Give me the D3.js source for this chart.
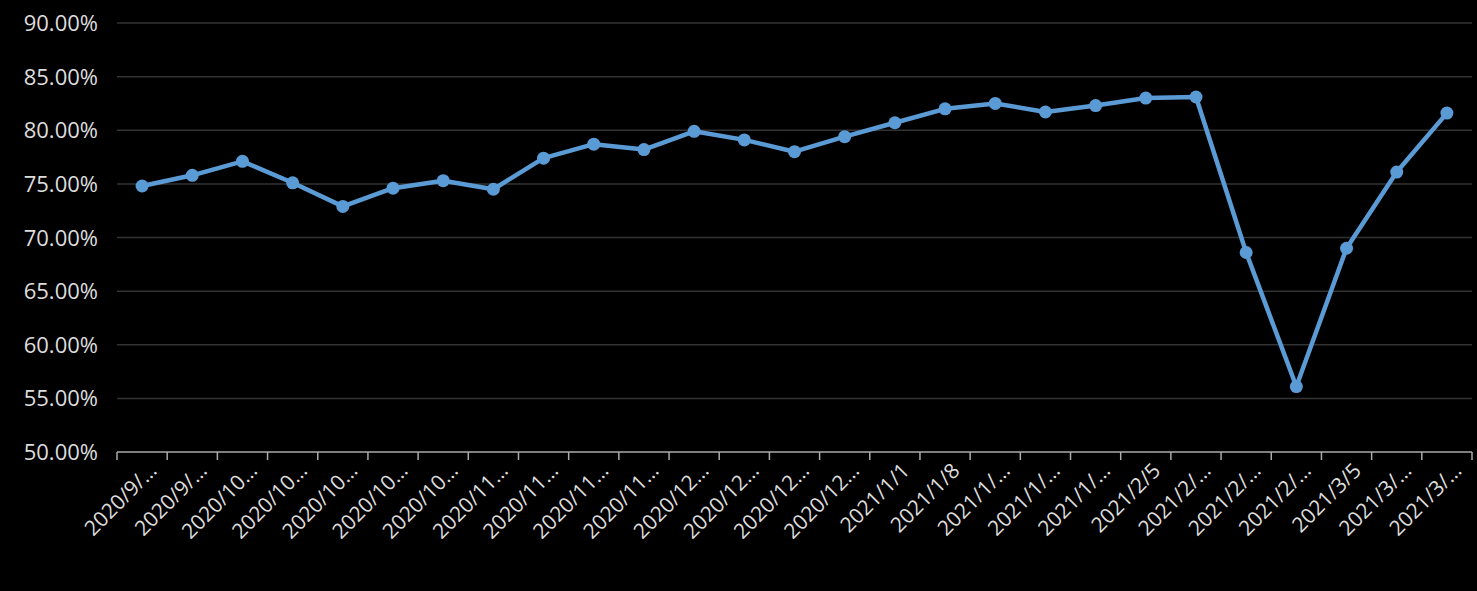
<!DOCTYPE html>
<html><head><meta charset="utf-8">
<script src="https://cdn.jsdelivr.net/npm/d3@7"></script>
<style>body{margin:0;background:#000}</style></head>
<body><svg id="c" width="1477" height="591"></svg>
<script>
const categories=["2020/9/…","2020/9/…","2020/10…","2020/10…","2020/10…","2020/10…","2020/10…","2020/11…","2020/11…","2020/11…","2020/11…","2020/12…","2020/12…","2020/12…","2020/12…","2021/1/1","2021/1/8","2021/1/…","2021/1/…","2021/1/…","2021/2/5","2021/2/…","2021/2/…","2021/2/…","2021/3/5","2021/3/…","2021/3/…"];
const values=[74.8,75.8,77.1,75.1,72.9,74.6,75.3,74.5,77.4,78.7,78.2,79.9,79.1,78.0,79.4,80.7,82.0,82.5,81.7,82.3,83.0,83.1,68.6,56.1,69.0,76.1,81.6];
const yTicks=[50,55,60,65,70,75,80,85,90];
const svg=d3.select("#c");
const L=117,R=1472,T=23,B=452;
const x=d3.scaleBand().domain(d3.range(categories.length)).range([L,R]);
const y=d3.scaleLinear().domain([50,90]).range([B,T]);
svg.append("g").selectAll("line").data(yTicks.slice(1)).join("line")
 .attr("x1",L).attr("x2",R).attr("y1",d=>y(d)).attr("y2",d=>y(d)).attr("stroke","#333").attr("stroke-width",1.5);
svg.append("g").selectAll("text").data(yTicks).join("text")
 .attr("x",98).attr("y",d=>y(d)+8).attr("text-anchor","end").attr("fill","#ddd")
 .attr("font-family","Open Sans, sans-serif").attr("font-size",22).text(d=>d.toFixed(2)+"%");
const xa=svg.append("g");
xa.append("line").attr("x1",L).attr("x2",R).attr("y1",B).attr("y2",B).attr("stroke","#aaa").attr("stroke-width",1.5);
xa.selectAll(".tk").data(d3.range(categories.length+1)).join("line")
 .attr("x1",i=>L+i*x.step()).attr("x2",i=>L+i*x.step()).attr("y1",B).attr("y2",B+8).attr("stroke","#aaa").attr("stroke-width",1.5);
xa.selectAll("text").data(categories).join("text")
 .attr("transform",(d,i)=>`translate(${x(i)+x.bandwidth()/2+16},${B+20}) rotate(-45)`)
 .attr("text-anchor","end").attr("fill","#ddd").attr("font-family","Open Sans, sans-serif").attr("font-size",21).text(d=>d);
const line=d3.line().x((d,i)=>x(i)+x.bandwidth()/2).y(d=>y(d));
svg.append("path").datum(values).attr("d",line).attr("fill","none").attr("stroke","#5b9bd5").attr("stroke-width",4.5).attr("stroke-linejoin","round");
svg.append("g").selectAll("circle").data(values).join("circle")
 .attr("cx",(d,i)=>x(i)+x.bandwidth()/2).attr("cy",d=>y(d)).attr("r",6.5).attr("fill","#5b9bd5");
</script></body></html>
